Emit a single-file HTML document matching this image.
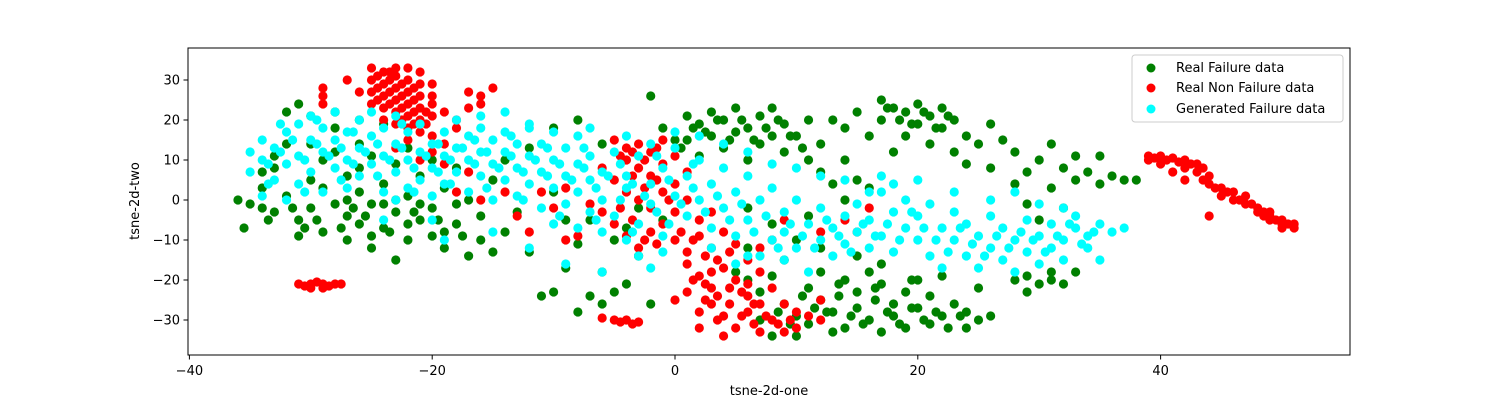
<!DOCTYPE html>
<html><head><meta charset="utf-8"><style>
html,body{margin:0;padding:0;background:#fff;}
svg{display:block;font-family:"DejaVu Sans","Liberation Sans",sans-serif;}
</style></head><body>
<svg id="chart" width="1500" height="400" viewBox="0 0 1500 400" xmlns="http://www.w3.org/2000/svg">
<rect x="0" y="0" width="1500" height="400" fill="#fff"/>
<g id="plot"></g>
<rect x="188" y="48" width="1162" height="307" fill="none" stroke="#000" stroke-width="1"/>
<g id="axes"></g>
<text x="769" y="395" font-size="13" text-anchor="middle">tsne-2d-one</text>
<text x="0" y="0" font-size="13" text-anchor="middle" transform="translate(139,201) rotate(-90)">tsne-2d-two</text>
<g>
<rect x="1132" y="55" width="211" height="67" rx="3" fill="#fff" fill-opacity="0.8" stroke="#ccc"/>
<g><circle cx="1151" cy="68" r="4.5" fill="#008000"/><text x="1176" y="72" font-size="13">Real Failure data</text></g>
<g><circle cx="1151" cy="88" r="4.5" fill="#ff0000"/><text x="1176" y="92" font-size="13">Real Non Failure data</text></g>
<g><circle cx="1151" cy="109" r="4.5" fill="#00ffff"/><text x="1176" y="113" font-size="13">Generated Failure data</text></g>
</g>
</svg>
<script>
const xTicks=[-40,-20,0,20,40];
const yTicks=[-30,-20,-10,0,10,20,30];
const realFailure=[[-36,0],[-35,-1],[-35.5,-7],[-34,3],[-33,-3],[-33,8],[-32,14],[-32,22],[-31,24],[-30,21],[-31,-5],[-31,-9],[-30,-2],[-30,5],[-29,10],[-29,-8],[-28,-1],[-28,12],[-28,18],[-27,6],[-27,-4],[-27,-10],[-26,2],[-26,8],[-26,14],[-26,-6],[-25,-1],[-25,11],[-25,-12],[-24,4],[-24,-7],[-24,19],[-23,-3],[-23,-15],[-23,9],[-22,-10],[-22,1],[-22,13],[-21,-5],[-21,6],[-20,-2],[-20,-9],[-19,3],[-19,-12],[-18,-6],[-18,8],[-17,-14],[-17,0],[-16,-4],[-16,-10],[-15,-13],[-15,5],[-34,-2],[-32,1],[-29,3],[-27,0],[-24,-1],[-23,0],[-21,-1],[-20,10],[-18,-1],[-30,14],[-28,22],[-26,20],[-33,11],[-34,7],[-25,-9],[-22,-6],[-19,-8],
[-14,-8],[-13,-3],[-12,-13],[-11,-24],[-10,-23],[-10,2],[-9,-17],[-9,-5],[-8,-11],[-7,-24],[-7,-5],[-6,-18],[-5,-23],[-5,-10],[-4,-7],[-3,-2],[-3,-14],[-2,-26],[-2,26],[-1,-5],[0,15],[-1,18],[-14,10],[-12,13],[-10,18],[-8,20],[-6,14],[-8,-28],[-6,-26],[-4,-21],
[1,21],[1,15],[2,19],[2,11],[3,16],[3,22],[4,20],[4,13],[5,17],[5,23],[6,18],[6,10],[7,21],[7,14],[8,16],[8,23],[9,19],[9,12],[10,16],[11,20],[11,10],[12,14],[12,7],[13,20],[13,4],[14,18],[14,10],[15,22],[15,5],[16,16],[17,25],[17,20],[18,12],[18,23],[19,22],[19,16],[20,19],[20,24],[21,21],[21,14],[22,23],[22,18],[23,12],[23,20],[24,16],[24,9],[25,14],[26,19],[26,8],[27,15],[28,4],[28,12],[29,7],[30,10],[31,14],[31,3],[32,8],[33,11],[33,5],[34,7],[35,11],[35,4],[36,6],[37,5],[38,5],[16,3],[14,0],[11,-4],[8,-6],[6,-2],[10,-10],[12,-12],[9,-15],[30,-5],[29,-1],[32,-2],
[5,-18],[6,-20],[7,-23],[8,-19],[9,-26],[10,-29],[11,-22],[11,-31],[12,-25],[13,-33],[13,-28],[14,-20],[14,-32],[15,-23],[15,-27],[16,-30],[16,-18],[17,-21],[17,-33],[18,-26],[18,-29],[19,-23],[19,-32],[20,-20],[20,-27],[21,-31],[21,-24],[22,-29],[22,-19],[23,-26],[24,-32],[24,-28],[25,-30],[26,-29],[12,-18],[10,-34],[8,-34],[7,-30],[25,-22],[28,-20],[29,-19],[30,-21],[31,-20],[32,-21],[33,-18],[31,-18],[29,-23],[15,-14],[17,-16],[6,-12],
[10.5,-24],[12.5,-28],[13.5,-24],[14.5,-29],[15.5,-31],[16.5,-25],[17.5,-28],[18.5,-31],[19.5,-27],[20.5,-30],[21.5,-28],[22.5,-32],[23.5,-29],[11.5,-27],[9.5,-31],[8.5,-28],[13.5,-21],[16.5,-22],[19.5,-20],[2.5,17],[3.5,20],[4.5,15],[5.5,20],[6.5,15],[7.5,18],[8.5,20],[9.5,16],[10.5,13],[1.5,18],[0.5,13],[18.5,20],[20.5,22],[21.5,18],[22.5,21],[19.5,19],[17.5,23],[-33.5,-5],[-31.5,-2],[-29.5,-5],[-27.5,-7],[-25.5,-4],[-23.5,-8],[-21.5,-3],[-19.5,-5],[-17.5,-9],[-26.5,-2],[-30.5,-7]];
const realNonFailure=[[-25,33],[-24,32],[-23,31],[-22,30],[-21,32],[-25,30],[-24,29],[-23,28],[-22,27],[-21,26],[-20,29],[-25,27],[-24,26],[-23,25],[-22,24],[-21,23],[-20,24],[-24,23],[-23,22],[-22,21],[-21,20],[-20,21],[-23,19],[-22,18],[-21,17],[-24,20],[-25,24],[-26,27],[-23,33],[-22,33],[-21,29],[-20,26],[-22,15],[-20,16],[-19,14],[-18,18],[-19,22],[-29,28],[-29,26],[-27,30],[-29,24],[-17,27],[-16,26],[-15,28],[-16,24],[-17,23],[-18,20],[-20,12],[-19,9],[-17,7],[-18,2],[-16,0],[-21,10],[-23,13],
[-31,-21],[-30.5,-21.5],[-30,-21],[-29.5,-20.5],[-29,-21],[-28.5,-21.5],[-28,-21],[-27.5,-21],[-30,-22],[-29,-22],[-5,-30],[-4.5,-30.5],[-4,-30],[-3.5,-31],[-3,-30.5],[-6,-29.5],
[-5,15],[-4,13],[-3,14],[-2,12],[-1,15],[0,11],[-4,10],[-3,8],[-2,6],[-1,9],[0,4],[1,7],[-5,5],[-4,2],[-3,0],[-2,-2],[-1,2],[0,-3],[1,0],[2,-5],[-6,-3],[-5,-6],[-4,-9],[-3,-12],[-2,-8],[-1,-6],[0,-10],[1,-13],[2,-9],[3,-12],[4,-8],[5,-11],[3,-3],[-8,-9],[-7,-1],[-9,3],[-10,-2],[-11,2],[-6,8],[1,-16],[2,-19],[3,-22],[4,-17],[5,-20],[6,-24],[3,-26],[4,-29],[5,-32],[6,-28],[7,-33],[8,-30],[9,-26],[10,-32],[11,-29],[2,-28],[1,-23],[0,-25],[6,-15],[7,-18],[8,-22],[9,-33],[10,-28],[12,-30],[2,-32],[4,-34],[7,-26],[6,-21],[3,-18],[12,-25],[7,-12],[8,-10],[9,-5],[12,-8],[14,-5],[16,-2],[15,-8],[-12,-8],[-13,-4],[-14,2],[-9,-10],
[39,11],[40,11],[41,10.5],[42,10],[43,9],[42,8],[43,7],[44,6],[44,4],[45,3],[45,1],[46,2],[46,0],[47,-1],[47,1],[48,-2],[48,-3],[49,-4],[49,-5],[50,-6],[50,-5],[51,-6],[51,-7],[50,-7],[49,-3],[44,-4],[41,7],[42,5],[39,10],[40,9],
[-24.5,31],[-23.5,30],[-22.5,29],[-21.5,28],[-24.5,28],[-23.5,27],[-22.5,26],[-21.5,25],[-23.5,24],[-22.5,23],[-21.5,22],[-22.5,20],[-21.5,19],[-20.5,22],[-20.5,19],[-24.5,25],[-23.5,32],[-4.5,11],[-3.5,12],[-2.5,10],[-1.5,13],[-3.5,6],[-2.5,3],[-1.5,5],[-0.5,0],[-4.5,-2],[-3.5,-5],[-2.5,-10],[-1.5,-11],[0.5,-8],[1.5,-10],[2.5,-14],[3.5,-15],[4.5,-13],[2.5,-21],[3.5,-24],[4.5,-26],[5.5,-29],[6.5,-31],[7.5,-29],[8.5,-31],[5.5,-23],[4.5,-22],[3.5,-30],[6.5,-26],[9.5,-30],[1.5,-20],[2.5,-25],[39.5,10.5],[40.5,10],[41.5,9.5],[42.5,9],[43.5,8],[43.5,5],[44.5,3],[45.5,2],[46.5,0],[47.5,-1],[48.5,-3],[49.5,-5],[50.5,-6],[48.5,-4]];
const generatedFailure=[[-35,12],[-35,7],[-34,10],[-34,15],[-33,5],[-33,13],[-32,9],[-32,17],[-31,11],[-31,4],[-31,19],[-30,7],[-30,15],[-30,21],[-29,12],[-29,2],[-29,18],[-28,8],[-28,15],[-28,22],[-27,10],[-27,17],[-27,3],[-26,13],[-26,20],[-26,6],[-25,9],[-25,16],[-25,22],[-24,11],[-24,2],[-24,18],[-23,14],[-23,7],[-23,21],[-22,10],[-22,3],[-22,17],[-21,12],[-21,5],[-21,19],[-20,8],[-20,14],[-20,1],[-19,11],[-19,17],[-19,4],[-18,13],[-18,7],[-18,20],[-17,10],[-17,16],[-17,2],[-16,12],[-16,6],[-16,18],[-15,9],[-15,15],[-15,0],[-14,12],[-14,5],[-14,17],[-13,8],[-13,14],[-13,1],[-12,11],[-12,4],[-12,18],[-11,7],[-11,14],[-11,-2],[-10,10],[-10,3],[-10,-6],[-9,13],[-9,6],[-9,-1],[-8,9],[-8,2],[-8,16],[-7,11],[-7,-3],[-7,5],[-6,7],[-6,0],[-6,-8],[-5,12],[-5,-4],[-4,3],[-4,6],[-3,-6],[-3,11],[-2,4],[-2,-1],[-2,14],[-1,8],[-1,-9],[0,1],[0,13],[1,6],[1,-4],[2,10],[2,0],[3,4],[3,-7],[4,8],[4,-2],[5,2],[5,-9],[6,6],[6,-5],[7,0],[7,-14],[8,3],[8,-10],[9,-3],[9,-15],[10,0],[10,-12],[11,-6],[11,-18],[12,-2],[12,-10],[13,-7],[13,-14],[14,-4],[14,-11],[15,-8],[15,-1],[16,-12],[16,-5],[17,-9],[17,2],[18,-3],[18,-13],[19,-7],[19,0],[20,-10],[20,-4],[21,-14],[21,-1],[22,-7],[22,-17],[23,-10],[23,-3],[24,-14],[24,-6],[25,-9],[25,-17],[26,-4],[26,-12],[27,-15],[27,-7],[28,-10],[28,-18],[29,-5],[29,-13],[30,-9],[30,-16],[31,-6],[31,-12],[32,-10],[32,-15],[33,-7],[33,-4],[34,-9],[34,-12],[35,-6],[36,-8],[37,-7],[35,-15],[-34,1],[-32,0],[-23,0],[-20,-5],[-15,-8],[-12,-12],[-9,-16],[-6,-18],[-3,-14],[-14,22],[-16,21],[-12,19],[-10,17],[-7,18],[-4,16],[0,17],[2,16],[4,14],[6,12],[8,9],[10,8],[12,6],[14,5],[16,2],[18,4],[-24,-5],[-19,-10],[-8,-7],[-4,-10],[-1,-13],[3,-12],[6,-14],[9,-8],[26,0],[28,2],[30,-1],[23,2],[32,-2],[20,5],[17,6],[-2,-17],[5,-16],
[-33.5,9],[-32.5,12],[-31.5,15],[-30.5,10],[-29.5,14],[-28.5,11],[-27.5,13],[-26.5,9],[-25.5,12],[-24.5,14],[-23.5,10],[-22.5,13],[-21.5,8],[-20.5,11],[-19.5,7],[-18.5,10],[-17.5,13],[-16.5,9],[-15.5,12],[-14.5,8],[-13.5,11],[-12.5,7],[-11.5,10],[-10.5,13],[-9.5,9],[-8.5,5],[-7.5,8],[-6.5,3],[-5.5,6],[-4.5,0],[-3.5,4],[-2.5,1],[-1.5,-3],[-0.5,5],[0.5,-1],[1.5,3],[2.5,-3],[3.5,1],[4.5,-5],[5.5,-1],[6.5,-8],[7.5,-4],[8.5,-12],[9.5,-6],[10.5,-9],[11.5,-12],[12.5,-5],[13.5,-9],[14.5,-13],[15.5,-6],[16.5,-9],[17.5,-6],[18.5,-10],[19.5,-3],[20.5,-7],[21.5,-10],[22.5,-13],[23.5,-7],[24.5,-11],[25.5,-14],[26.5,-9],[27.5,-12],[28.5,-8],[29.5,-10],[30.5,-13],[31.5,-9],[32.5,-6],[33.5,-11],[34.5,-8],[-32.5,19],[-29.5,20],[-26.5,17],[-22.5,19],[-19.5,14],[-16.5,15],[-13.5,16],[-10.5,6],[-7.5,13],[-4.5,9],[-1.5,11],[1.5,9],[-33.5,4],[-30.5,2],[-27.5,5],[-24.5,6],[-21.5,2],[-18.5,4],[-15.5,3],[-12.5,0],[-9.5,-4],[-6.5,-5],[-3.5,-8],[-0.5,-6]];

const NS='http://www.w3.org/2000/svg';
function xs(v){return 675+v*12.14;}
function ys(v){return 200-v*4.0;}
const plot=document.getElementById('plot');
const axes=document.getElementById('axes');
function drawSeries(arr,color,name){
  const g=document.createElementNS(NS,'g');
  
  
  arr.forEach(p=>{
    const c=document.createElementNS(NS,'circle');
    c.setAttribute('cx',xs(p[0]));c.setAttribute('cy',ys(p[1]));
    c.setAttribute('r',4.6);c.setAttribute('fill',color);
    
    
    g.appendChild(c);
  });
  plot.appendChild(g);
}
drawSeries(realFailure,'#008000','series-real-failure');
drawSeries(realNonFailure,'#ff0000','series-real-non-failure');
drawSeries(generatedFailure,'#00ffff','series-generated-failure');
xTicks.forEach(t=>{
  const x=xs(t);
  const l=document.createElementNS(NS,'line');
  l.setAttribute('x1',x);l.setAttribute('x2',x);l.setAttribute('y1',355);l.setAttribute('y2',359.5);l.setAttribute('stroke','#000');
  
  
  axes.appendChild(l);
  const tx=document.createElementNS(NS,'text');
  tx.setAttribute('x',x);tx.setAttribute('y',375);tx.setAttribute('font-size','13');tx.setAttribute('text-anchor','middle');
  tx.textContent=(t<0?'\u2212'+(-t):t);
  
  
  axes.appendChild(tx);
});
yTicks.forEach(t=>{
  const y=ys(t);
  const l=document.createElementNS(NS,'line');
  l.setAttribute('x1',183.5);l.setAttribute('x2',188);l.setAttribute('y1',y);l.setAttribute('y2',y);l.setAttribute('stroke','#000');
  
  
  axes.appendChild(l);
  const tx=document.createElementNS(NS,'text');
  tx.setAttribute('x',180);tx.setAttribute('y',y+4.5);tx.setAttribute('font-size','13');tx.setAttribute('text-anchor','end');
  tx.textContent=(t<0?'\u2212'+(-t):t);
  
  
  axes.appendChild(tx);
});
</script>
</body></html>
